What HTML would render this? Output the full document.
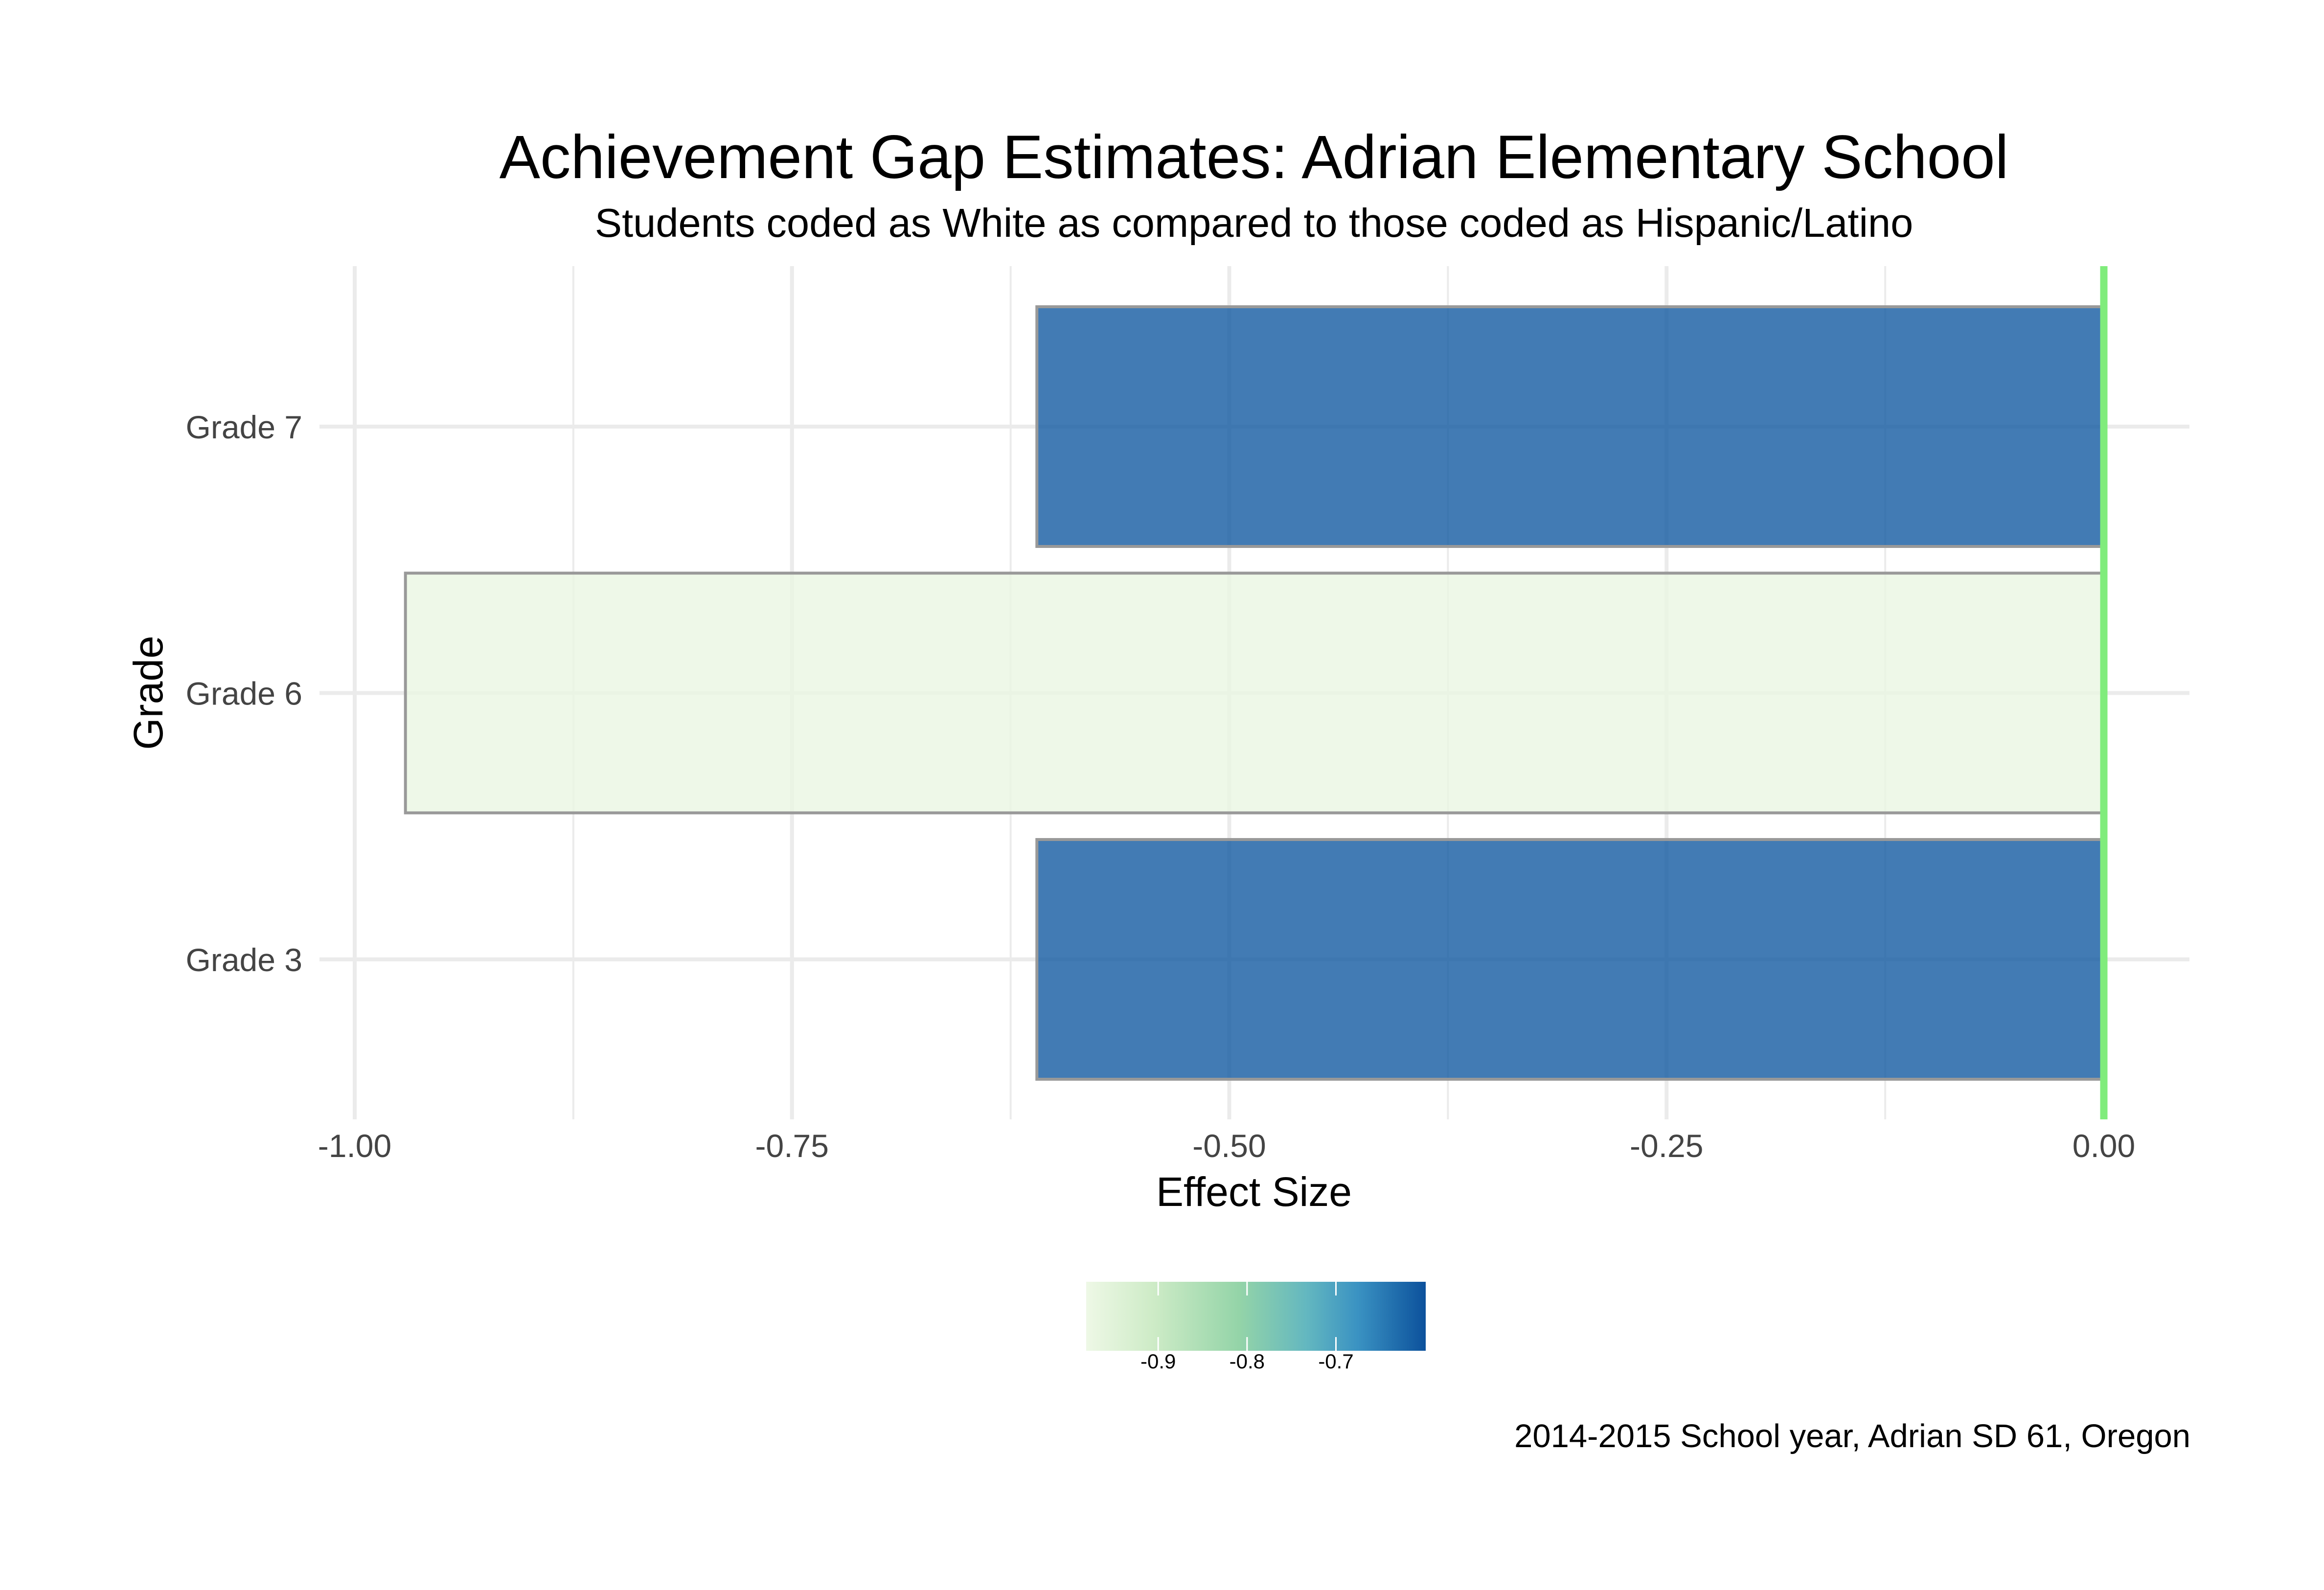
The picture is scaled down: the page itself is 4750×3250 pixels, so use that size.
<!DOCTYPE html>
<html><head><meta charset="utf-8"><style>html,body{margin:0;padding:0;background:#fff}svg{display:block}text{font-family:"Liberation Sans",Arial,sans-serif}</style></head>
<body>
<svg id="chart" width="4750" height="3250" viewBox="0 0 4750 3250">
<defs><linearGradient id="gnbu" x1="0" x2="1" y1="0" y2="0">
<stop offset="0" stop-color="#eef8e6"/><stop offset="0.2" stop-color="#cdebc6"/><stop offset="0.45" stop-color="#94d4a8"/><stop offset="0.65" stop-color="#63b7c0"/><stop offset="0.8" stop-color="#3a92c2"/><stop offset="1" stop-color="#0c519c"/></linearGradient></defs>
<text x="2563" y="364" font-size="125" text-anchor="middle" fill="#000">Achievement Gap Estimates: Adrian Elementary School</text>
<text x="2563" y="484" font-size="83" text-anchor="middle" fill="#000">Students coded as White as compared to those coded as Hispanic/Latino</text>
<g id="grid"></g>
<g id="bars"></g>
<g id="axes"></g>
<text x="2563" y="2465" font-size="84" text-anchor="middle" fill="#000">Effect Size</text>
<text x="0" y="0" font-size="84" text-anchor="middle" fill="#000" transform="translate(332,1416) rotate(-90)">Grade</text>
<g>
<rect x="2220" y="2620" width="694" height="141" fill="url(#gnbu)"/>
<g id="legendTicks"></g>
</g>
<text x="4477" y="2958" font-size="67" text-anchor="end" fill="#000">2014-2015 School year, Adrian SD 61, Oregon</text>
</svg>
<script>
const categories = ["Grade 7", "Grade 6", "Grade 3"];
const values = [-0.61, -0.971, -0.61];
const xTicks = [-1.00, -0.75, -0.50, -0.25, 0.00];
const xTickLabels = ["-1.00", "-0.75", "-0.50", "-0.25", "0.00"];
const xMinorTicks = [-0.875, -0.625, -0.375, -0.125];
const legendTicks = [-0.9, -0.8, -0.7];
const legendTickLabels = ["-0.9", "-0.8", "-0.7"];

const NS = "http://www.w3.org/2000/svg";
const X0 = 725, X1 = 4300;
const xs = v => X1 + (v - 0) * (X1 - X0);
const ys = i => 872 + i * 544.5;
const bandH = 490;
const pL = 653, pR = 4475, pT = 544, pB = 2288;
const lMin = -0.981, lMax = -0.599, lx0 = 2220, lx1 = 2914;
const lx = v => lx0 + (v - lMin) / (lMax - lMin) * (lx1 - lx0);
function mk(tag, attrs, parent) { const e = document.createElementNS(NS, tag); for (const k in attrs) e.setAttribute(k, attrs[k]); parent.appendChild(e); return e; }
function colorFor(v) {
  const t = Math.max(0, Math.min(1, (v - lMin) / (lMax - lMin)));
  const stops = [[0,[238,248,230]],[0.2,[205,235,198]],[0.45,[148,212,168]],[0.65,[99,183,192]],[0.8,[58,146,194]],[1,[12,81,156]]];
  for (let i = 1; i < stops.length; i++) if (t <= stops[i][0]) {
    const a = stops[i-1], b = stops[i], f = (t - a[0]) / (b[0] - a[0]);
    return "rgb(" + a[1].map((c, j) => Math.round(c + (b[1][j] - c) * f)).join(",") + ")";
  }
  return "rgb(12,81,156)";
}
const grid = document.getElementById("grid"), bars = document.getElementById("bars"), axes = document.getElementById("axes");
xMinorTicks.forEach(v => {
  const l = mk("line", {x1: xs(v), x2: xs(v), y1: pT, y2: pB, stroke: "#ebebeb", "stroke-width": 4}, grid);
  
  
});
xTicks.forEach((v, i) => {
  const l = mk("line", {x1: xs(v), x2: xs(v), y1: pT, y2: pB, stroke: "#ebebeb", "stroke-width": 8}, grid);
  
  
  const t = mk("text", {x: xs(v), y: 2365, "font-size": 66, "text-anchor": "middle", fill: "#444"}, axes);
  t.textContent = xTickLabels[i];
  
  
});
categories.forEach((c, i) => {
  const l = mk("line", {x1: pL, x2: pR, y1: ys(i), y2: ys(i), stroke: "#ebebeb", "stroke-width": 8}, grid);
  
  
  const t = mk("text", {x: 618, y: ys(i) + 24, "font-size": 66, "text-anchor": "end", fill: "#444"}, axes);
  t.textContent = c;
  
  
  const x = xs(values[i]), w = xs(0) - x;
  const r = mk("rect", {x: x, y: ys(i) - bandH / 2, width: w, height: bandH, fill: colorFor(values[i]), "fill-opacity": 0.8, stroke: "#999", "stroke-width": 6}, bars);
  
  
});
const zl = mk("line", {x1: xs(0), x2: xs(0), y1: pT, y2: pB, stroke: "#80ec7c", "stroke-width": 15}, bars);


const lt = document.getElementById("legendTicks");
legendTicks.forEach((v, i) => {
  const a = mk("line", {x1: lx(v), x2: lx(v), y1: 2620, y2: 2648, stroke: "#fff", "stroke-width": 3}, lt);
  
  
  const b = mk("line", {x1: lx(v), x2: lx(v), y1: 2733, y2: 2761, stroke: "#fff", "stroke-width": 3}, lt);
  
  
  const t = mk("text", {x: lx(v), y: 2797, "font-size": 42, "text-anchor": "middle", fill: "#000"}, lt);
  t.textContent = legendTickLabels[i];
  
  
});
</script>
</body></html>
